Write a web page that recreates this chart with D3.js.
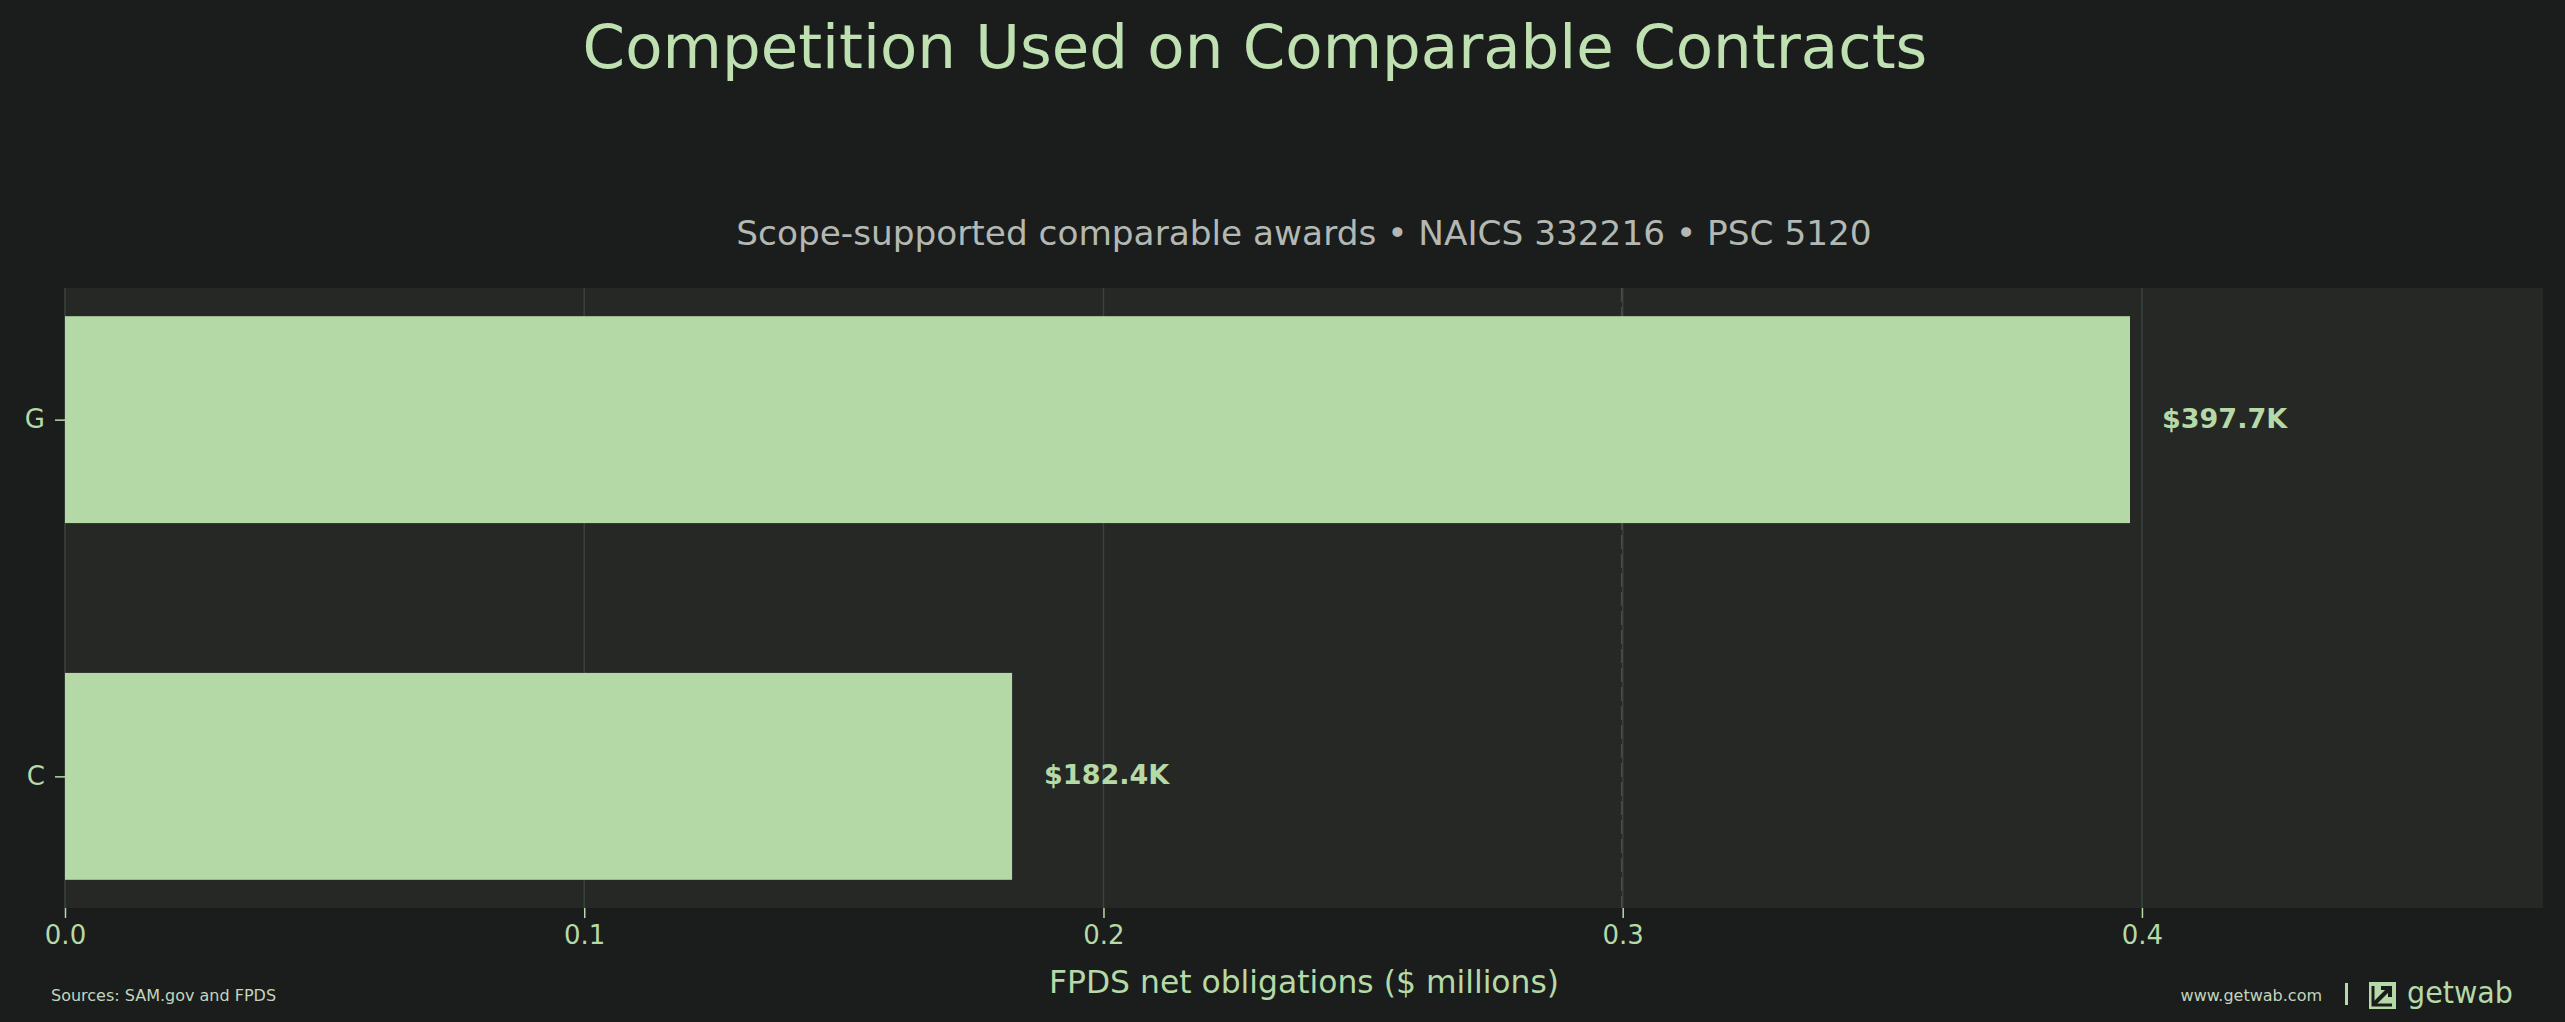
<!DOCTYPE html>
<html>
<head>
<meta charset="utf-8">
<script src="https://cdn.jsdelivr.net/npm/d3@7"></script>
<style>
  html, body { margin: 0; padding: 0; background: #1a1d1c; }
  svg { display: block; }
  text { font-family: "DejaVu Sans", sans-serif; }
</style>
</head>
<body>
<svg id="chart"></svg>
<script>
// data
var categories = ['G', 'C'];
var values = [0.3977, 0.1824];           // $ millions
var valueLabels = ['$397.7K', '$182.4K'];
var xTicks = [0, 0.1, 0.2, 0.3, 0.4];
var refLine = [0.2998];                  // dashed marker line

var W = 2565, H = 1022;
var plot = { left: 65, right: 2543, top: 288, bottom: 908 };
var green = '#b6d9a8';

var svg = d3.select('#chart').attr('width', W).attr('height', H);
svg.append('rect').attr('width', W).attr('height', H).attr('fill', '#1a1d1c');

var x = d3.scaleLinear()
  .domain([0, d3.max(values) * 1.2])
  .range([plot.left, plot.right]);

// bar positions like matplotlib: index 0 at top, bar height 0.58, 5% margins
var barH = 0.58;
var pad = (1 + barH) * 0.05;
var y = d3.scaleLinear()
  .domain([-barH / 2 - pad, categories.length - 1 + barH / 2 + pad])
  .range([plot.top, plot.bottom]);

svg.append('rect')
  .attr('x', plot.left).attr('y', plot.top)
  .attr('width', plot.right - plot.left).attr('height', plot.bottom - plot.top)
  .attr('fill', '#262826');

// grid
svg.append('g').selectAll('line').data(xTicks).enter().append('line')
  .attr('x1', function (d) { return x(d); }).attr('x2', function (d) { return x(d); })
  .attr('y1', plot.top).attr('y2', plot.bottom)
  .attr('stroke', '#3b423d').attr('stroke-width', 1.5);

svg.append('g').selectAll('line').data(refLine).enter().append('line')
  .attr('x1', function (d) { return x(d); }).attr('x2', function (d) { return x(d); })
  .attr('y1', plot.top).attr('y2', plot.bottom)
  .attr('stroke', '#474b48').attr('stroke-width', 1.5)
  .attr('stroke-dasharray', '14,5');

// bars
svg.append('g').selectAll('rect').data(values).enter().append('rect')
  .attr('x', x(0))
  .attr('y', function (d, i) { return y(i - barH / 2); })
  .attr('width', function (d) { return x(d) - x(0); })
  .attr('height', y(barH) - y(0))
  .attr('fill', '#b5d8a7');

svg.append('g').selectAll('text').data(values).enter().append('text')
  .attr('x', function (d) { return x(d) + 32; })
  .attr('y', function (d, i) { return y(i); })
  .attr('dy', '0.3em')
  .attr('fill', green)
  .attr('font-size', 27)
  .attr('font-weight', 'bold')
  .text(function (d, i) { return valueLabels[i]; });

// x axis
var xAxis = svg.append('g')
  .attr('transform', 'translate(0,' + plot.bottom + ')')
  .call(d3.axisBottom(x).tickValues(xTicks).tickFormat(d3.format('.1f')).tickSize(10).tickPadding(8));
xAxis.select('.domain').remove();
xAxis.selectAll('line').attr('stroke', green).attr('stroke-width', 1.5);
xAxis.selectAll('text').attr('fill', green).attr('font-size', 26)
  .attr('font-family', '"DejaVu Sans", sans-serif');

// y axis
var yAxis = svg.append('g')
  .attr('transform', 'translate(' + plot.left + ',0)')
  .call(d3.axisLeft(y).tickValues(d3.range(categories.length))
    .tickFormat(function (d) { return categories[d]; }).tickSize(10).tickPadding(10));
yAxis.select('.domain').remove();
yAxis.selectAll('line').attr('stroke', green).attr('stroke-width', 1.5);
yAxis.selectAll('text').attr('fill', green).attr('font-size', 26)
  .attr('font-family', '"DejaVu Sans", sans-serif');

// titles
svg.append('text')
  .attr('x', 1255).attr('y', 68)
  .attr('text-anchor', 'middle')
  .attr('fill', '#bfe0b1').attr('font-size', 61)
  .text('Competition Used on Comparable Contracts');

svg.append('text')
  .attr('x', (plot.left + plot.right) / 2).attr('y', 245)
  .attr('text-anchor', 'middle')
  .attr('fill', '#b3b8b3').attr('font-size', 34.3)
  .text('Scope-supported comparable awards \u2022 NAICS 332216 \u2022 PSC 5120');

svg.append('text')
  .attr('x', (plot.left + plot.right) / 2).attr('y', 993)
  .attr('text-anchor', 'middle')
  .attr('fill', green).attr('font-size', 31.4)
  .text('FPDS net obligations ($ millions)');

// footer
svg.append('text')
  .attr('x', 51).attr('y', 1001)
  .attr('fill', '#c4d4bf').attr('font-size', 16)
  .text('Sources: SAM.gov and FPDS');

svg.append('text')
  .attr('x', 2322).attr('y', 1001)
  .attr('text-anchor', 'end')
  .attr('fill', '#c4d4bf').attr('font-size', 16)
  .text('www.getwab.com');

svg.append('rect')
  .attr('x', 2345).attr('y', 983).attr('width', 3).attr('height', 22)
  .attr('fill', green);

// logo mark
var logo = svg.append('g').attr('transform', 'translate(2369,982)');
logo.append('rect').attr('width', 27).attr('height', 27).attr('fill', green);
logo.append('path')
  .attr('d', 'M5,22 L21,6 M12,6 L21,6 L21,15')
  .attr('stroke', '#1a1d1c').attr('stroke-width', 4).attr('fill', 'none');
logo.append('path')
  .attr('d', 'M4,4 L4,23 L23,23')
  .attr('stroke', '#1a1d1c').attr('stroke-width', 3).attr('fill', 'none');

svg.append('text')
  .attr('x', 2407).attr('y', 1003)
  .attr('fill', green).attr('font-size', 30)
  .attr('textLength', 106).attr('lengthAdjust', 'spacingAndGlyphs')
  .text('getwab');
</script>
</body>
</html>
